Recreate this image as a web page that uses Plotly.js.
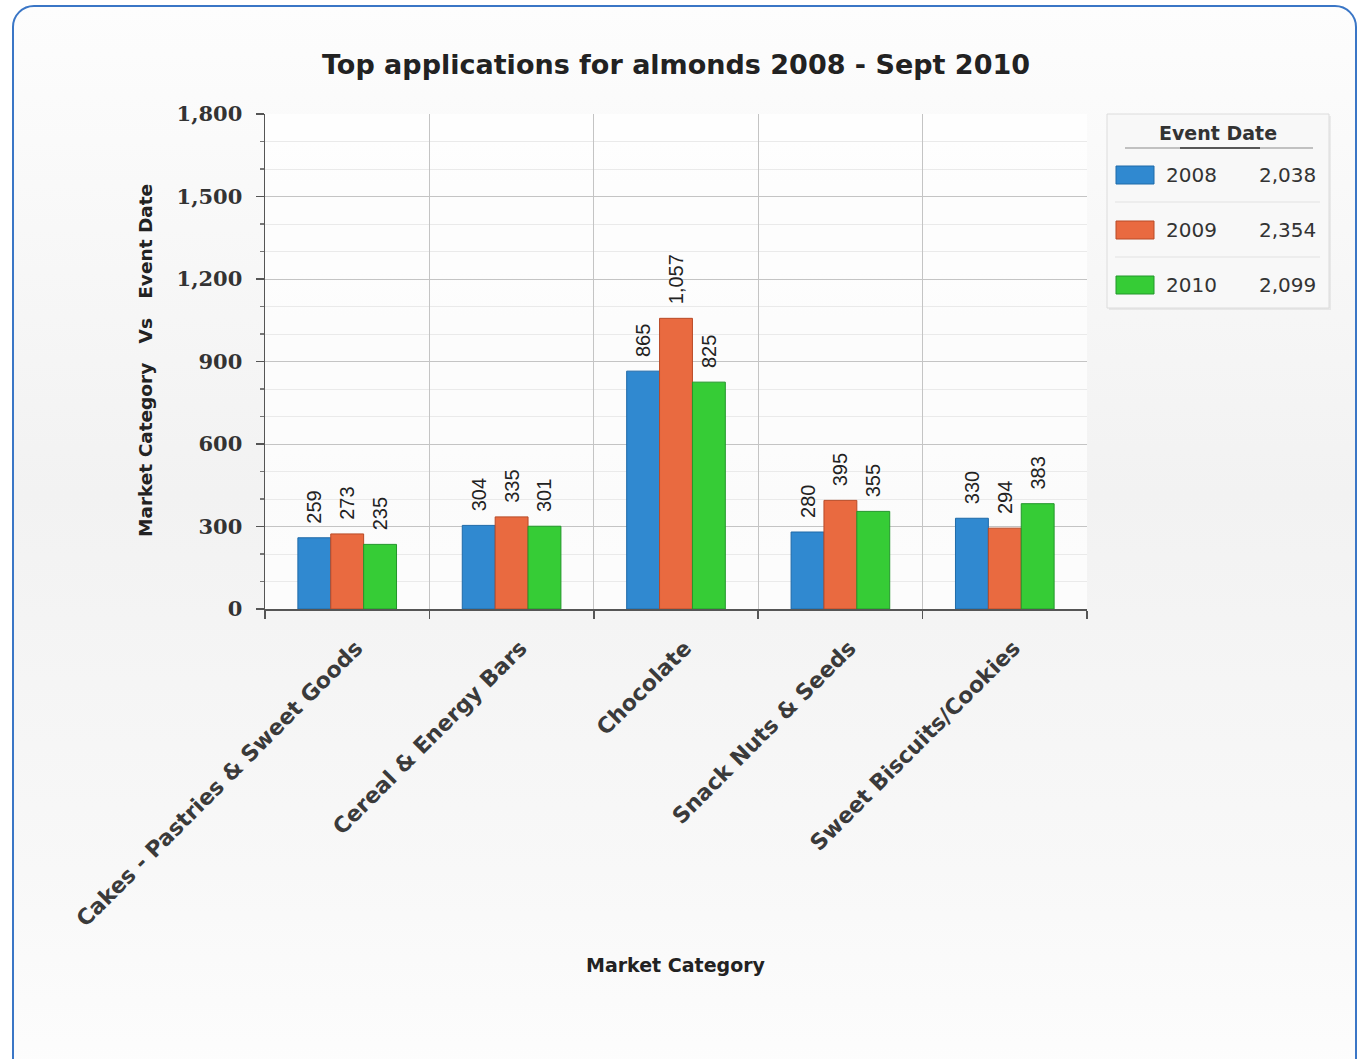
<!DOCTYPE html>
<html>
<head>
<meta charset="utf-8">
<script src="https://cdn.plot.ly/plotly-3.0.1.min.js"></script>
<style>
  html, body { margin:0; padding:0; width:1359px; height:1059px; overflow:hidden; background:#ffffff; }
  #frame { position:absolute; left:12px; top:5px; width:1341px; height:1080px;
           border:2.5px solid #3a76c6; border-radius:22px;
           background: linear-gradient(to bottom, #fdfdfd 0%, #f2f2f2 45%, #f8f8f8 80%, #fdfdfd 100%); }
  #chart { position:absolute; left:0; top:0; width:1359px; height:1059px; }
</style>
</head>
<body>
<div id="frame"></div>
<div id="chart"></div>
<script>
const categories = ["Cakes - Pastries & Sweet Goods", "Cereal & Energy Bars", "Chocolate", "Snack Nuts & Seeds", "Sweet Biscuits/Cookies"];
const seriesNames = ["2008", "2009", "2010"];
const values2008 = [259, 304, 865, 280, 330];
const values2009 = [273, 335, 1057, 395, 294];
const values2010 = [235, 301, 825, 355, 383];
const seriesColors = ["#3089d0", "#e96a40", "#36cc36"];
const seriesLines = ["#1f6aa8", "#b84a26", "#22962a"];

const allValues = [values2008, values2009, values2010];

// pixel helpers for layout decoration (plot area: x 265..1087, y 114..609)
const L = 265, R = 1087, T = 114, B = 609;
const px = x => (x - L) / (R - L);
const py = y => (B - y) / (B - T);

const traces = allValues.map((vals, i) => ({
  type: 'bar',
  name: seriesNames[i],
  x: categories,
  y: vals,
  marker: { color: seriesColors[i], line: { color: seriesLines[i], width: 1 } },
  text: vals.map(v => '\u00a0\u00a0' + v.toLocaleString('en-US')),
  textposition: 'outside',
  textangle: -90,
  constraintext: 'none',
  textfont: { family: '"Liberation Sans Narrow", "Liberation Sans", Arial, sans-serif', size: 20, color: '#222' },
  cliponaxis: false,
  showlegend: false,
  hoverinfo: 'x+y'
}));

const shapes = [];
const annotations = [];
const uiFont = '"DejaVu Sans", Verdana, sans-serif';

// legend box
shapes.push({ type:'rect', xref:'paper', yref:'paper', x0:px(1109), x1:px(1331), y0:py(116), y1:py(310),
  fillcolor:'rgba(0,0,0,0.06)', line:{width:0}, layer:'above' });
shapes.push({ type:'rect', xref:'paper', yref:'paper', x0:px(1107), x1:px(1329), y0:py(114), y1:py(308),
  fillcolor:'#f8f8f8', line:{color:'#dcdcdc', width:1}, layer:'above' });
annotations.push({ xref:'paper', yref:'paper', x:px(1218), y:py(133), text:'<b>Event Date</b>', showarrow:false,
  font:{ family:uiFont, size:19, color:'#333' }, xanchor:'center', yanchor:'middle' });
shapes.push({ type:'line', xref:'paper', yref:'paper', x0:px(1125), x1:px(1313), y0:py(148), y1:py(148),
  line:{ color:'#8a8a8a', width:1.2 }, layer:'above' });
shapes.push({ type:'line', xref:'paper', yref:'paper', x0:px(1180), x1:px(1260), y0:py(148), y1:py(148),
  line:{ color:'#333', width:1.5 }, layer:'above' });

const rowY = [175, 230, 285];
seriesNames.forEach((name, i) => {
  const yc = rowY[i];
  const total = allValues[i].reduce((a, b) => a + b, 0);
  shapes.push({ type:'rect', xref:'paper', yref:'paper', x0:px(1116), x1:px(1154), y0:py(yc-9), y1:py(yc+9),
    fillcolor: seriesColors[i], line:{ color: seriesLines[i], width:1 }, layer:'above' });
  annotations.push({ xref:'paper', yref:'paper', x:px(1164), y:py(yc), text:name, showarrow:false,
    font:{ family:uiFont, size:20, color:'#333' }, xanchor:'left', yanchor:'middle' });
  annotations.push({ xref:'paper', yref:'paper', x:px(1318), y:py(yc), text:total.toLocaleString('en-US'), showarrow:false,
    font:{ family:uiFont, size:20, color:'#333' }, xanchor:'right', yanchor:'middle' });
  if (i < seriesNames.length - 1) {
    shapes.push({ type:'line', xref:'paper', yref:'paper', x0:px(1115), x1:px(1320), y0:py(yc+27), y1:py(yc+27),
      line:{ color:'#e2e2e2', width:1 }, layer:'above' });
  }
});

// axis titles
annotations.push({ xref:'paper', yref:'paper', x:px(676), y:py(965), text:'<b>Market Category</b>', showarrow:false,
  font:{ family:uiFont, size:19, color:'#222' }, xanchor:'center', yanchor:'middle' });
annotations.push({ xref:'paper', yref:'paper', x:px(145), y:py(361), text:'<b>Market Category&nbsp;&nbsp;&nbsp;Vs&nbsp;&nbsp;&nbsp;Event Date</b>', showarrow:false,
  textangle:-90, font:{ family:uiFont, size:18.5, color:'#222' }, xanchor:'center', yanchor:'middle' });

const layout = {
  width: 1359, height: 1059,
  margin: { l: L, r: 1359 - R, t: T, b: 1059 - B, pad: 0 },
  paper_bgcolor: 'rgba(0,0,0,0)',
  plot_bgcolor: 'rgba(255,255,255,0.7)',
  title: { text: '<b>Top applications for almonds 2008 - Sept 2010</b>', x: 0.5, xref: 'paper', xanchor: 'center',
           y: 1 - 65/1059, yref: 'container', yanchor: 'middle',
           font: { family: uiFont, size: 27, color: '#222' } },
  barmode: 'group',
  bargap: 0.4,
  bargroupgap: 0,
  showlegend: false,
  xaxis: {
    type: 'category',
    tickson: 'boundaries',
    showgrid: true, gridcolor: '#c4c4c4', gridwidth: 1,
    showline: true, linecolor: '#555', linewidth: 1.5,
    ticks: 'outside', ticklen: 8, tickcolor: '#555', tickwidth: 1.5,
    tickangle: -45,
    ticklabelstandoff: 16,
    ticklabelshift: 9,
    tickfont: { family: uiFont, size: 22, color: '#3a3a3a', weight: 'bold' },
    automargin: false,
    fixedrange: true
  },
  yaxis: {
    range: [0, 1800],
    tick0: 0, dtick: 300,
    tickformat: ',d',
    showgrid: true, gridcolor: '#c4c4c4', gridwidth: 1,
    showline: true, linecolor: '#555', linewidth: 1.5,
    ticks: 'outside', ticklen: 8, tickcolor: '#555', tickwidth: 1.5,
    ticklabelstandoff: 9,
    minor: { dtick: 100, ticks: 'outside', ticklen: 4, tickcolor: '#777', showgrid: true, gridcolor: '#eaeaea', gridwidth: 1 },
    tickfont: { family: '"DejaVu Serif", Georgia, serif', size: 21, color: '#333', weight: 'bold' },
    zeroline: false,
    automargin: false,
    fixedrange: true
  },
  shapes: shapes,
  annotations: annotations
};

Plotly.newPlot('chart', traces, layout, { displayModeBar: false, staticPlot: true });
</script>
</body>
</html>
